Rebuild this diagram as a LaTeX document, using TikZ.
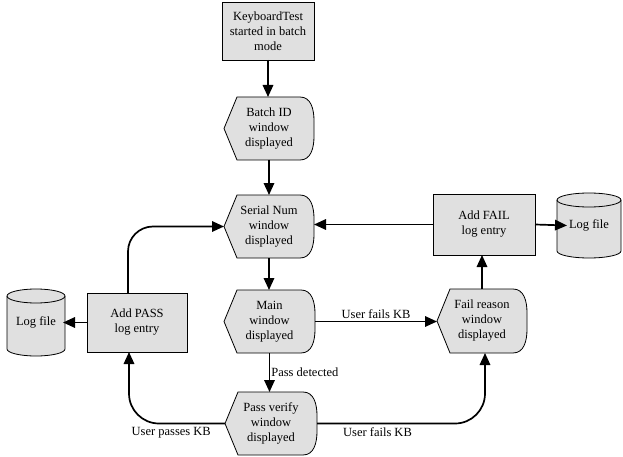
\documentclass[tikz,border=0pt]{standalone}
\usepackage{fontspec}
\setmainfont{Liberation Serif}
\usetikzlibrary{arrows.meta}
\definecolor{shapefill}{RGB}{224,224,224}
\tikzset{
  shapeline/.style={draw=black, fill=shapefill, line width=0.8pt},
  txt/.style={align=center, inner sep=0pt, outer sep=0pt, font=\fontsize{12.5}{15}\selectfont},
  procbox/.style={shapeline, txt, rectangle},
  conn/.style={line width=1.7pt, -{Triangle[length=12pt,width=10.5pt]}},
  lbl/.style={font=\fontsize{12.5}{15}\selectfont, inner sep=2pt}
}
% display shape: name, L, T, R, B, text
\newcommand{\dispshape}[6]{%
  \filldraw[shapeline] ({#2},{(#3+#5)/2}) -- ({#2+13},{#3}) -- ({#4-14},{#3})
    .. controls ({#4-3},{#3}) and ({#4},{#3+12}) .. ({#4},{#3+24})
    -- ({#4},{#5-24})
    .. controls ({#4},{#5-12}) and ({#4-3},{#5}) .. ({#4-14},{#5})
    -- ({#2+13},{#5}) -- cycle;
  \node[txt, minimum width={(#4-#2)*1pt}, minimum height={(#5-#3)*1pt}] (#1) at ({(#2+#4)/2},{(#3+#5)/2}) {#6};
}
% cylinder: name, L, T, R, B, text
\newcommand{\logcyl}[6]{%
  \filldraw[shapeline] ({#2},{#3+7}) -- ({#2},{#5-7})
    arc[start angle=180, end angle=360, x radius={(#4-#2)/2*1pt}, y radius=7pt]
    -- ({#4},{#3+7})
    arc[start angle=0, end angle=180, x radius={(#4-#2)/2*1pt}, y radius=7pt] -- cycle;
  \draw[line width=0.8pt] ({#2},{#3+7})
    arc[start angle=180, end angle=360, x radius={(#4-#2)/2*1pt}, y radius=7pt];
  \node[txt, minimum width={(#4-#2)*1pt}, minimum height={(#5-#3)*1pt}] (#1) at ({(#2+#4)/2},{(#3+#5)/2}) {#6};
}
\begin{document}
\begin{tikzpicture}[x=1pt, y=-1pt]
\useasboundingbox (0,0) rectangle (623,457);

\node[procbox, minimum width=92pt, minimum height=58pt] (start) at (268,31) {KeyboardTest\\started in batch\\mode};
\dispshape{batch}{224}{97}{314}{160}{Batch ID\\window\\displayed}
\dispshape{serial}{224}{195}{314}{258}{Serial Num\\window\\displayed}
\dispshape{main}{224}{290}{315}{353}{Main\\window\\displayed}
\dispshape{pass}{225}{392}{317}{455}{Pass verify\\window\\displayed}
\dispshape{fail}{437}{289}{527}{353}{Fail reason\\window\\displayed}
\node[procbox, minimum width=102pt, minimum height=61pt] (addfail) at (484,224.5) {Add FAIL\\log entry};
\node[procbox, minimum width=100pt, minimum height=59pt] (addpass) at (137,322.5) {Add PASS\\log entry};
\logcyl{logR}{557}{193}{621}{258}{Log file}
\logcyl{logL}{7}{289}{65}{356}{Log file}

\draw[conn] (start.south) -- (start.south |- batch.north);
\draw[conn] (batch.south) -- (batch.south |- serial.north);
\draw[conn] (serial.south) -- (serial.south |- main.north);
\draw[conn] (main.east) -- (main.east -| fail.west) node[lbl, above, midway] {User fails KB};
\draw[conn] (main.south) -- (main.south |- pass.north) node[lbl, right, midway, xshift=-1pt] {Pass detected};
\draw[conn, rounded corners=30pt] (pass.west) -| ([xshift=-8pt]addpass.south) node[lbl, below, pos=0.28, yshift=-1pt] {User passes KB};
\draw[conn, rounded corners=30pt] (pass.east) -| ([xshift=3pt]fail.south) node[lbl, below, pos=0.18, yshift=-1pt] {User fails KB};
\draw[conn] (fail.north) -- (fail.north |- addfail.south);
\draw[conn] (addfail.west) -- (addfail.west -| serial.east);
\draw[conn] (addfail.east) -- ([xshift=10pt]logR.west);
\draw[conn] (addpass.west) -- ([xshift=-2pt]logL.east);
\draw[conn, rounded corners=25pt] ([xshift=-9pt]addpass.north) |- (serial.west);
\end{tikzpicture}
\end{document}
